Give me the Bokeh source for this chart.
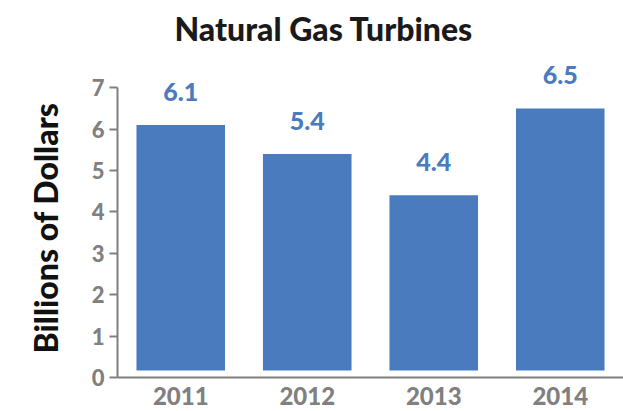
from bokeh.plotting import figure
from bokeh.models import ColumnDataSource, LabelSet, Range1d, Title
from bokeh.core.properties import value
from bokeh.embed import file_html
from bokeh.resources import INLINE

years = ["2011", "2012", "2013", "2014"]
values = [6.1, 5.4, 4.4, 6.5]
y_ticks = [0, 1, 2, 3, 4, 5, 6, 7]

BAR = "#4a7bbf"
GRAY = "#808080"
FONT = "Lato Heavy"
STYLE = "normal"

src = ColumnDataSource(dict(
    x=years,
    top=values,
    label=[f"{v:.1f}" for v in values],
))

p = figure(
    x_range=years,
    y_range=Range1d(0, 7.85),
    width=623, height=411,
    output_backend="svg", toolbar_location=None,
    min_border_left=117, min_border_right=0,
    min_border_top=52, min_border_bottom=34,
    title="Natural Gas Turbines",
)
p.x_range.range_padding = 0
p.outline_line_color = None
p.grid.grid_line_color = None
p.background_fill_color = "white"
p.border_fill_color = "white"

p.title.align = "left"
p.title.offset = 57
p.title.text_font = FONT
p.title.text_font_style = STYLE
p.title.text_font_size = "32px"
p.title.text_color = "#1a1a1a"
p.title.standoff = 9

p.vbar(x="x", top="top", bottom=0.17, width=0.70, source=src,
       fill_color=BAR, line_color=None)

labels = LabelSet(x="x", y="top", text="label", source=src,
                  text_font=value(FONT), text_font_style=STYLE,
                  text_font_size="25px", text_color=BAR,
                  text_align="center", text_baseline="middle",
                  y_offset=33)
p.add_layout(labels)

ya = p.yaxis[0]
ya.ticker = y_ticks
ya.bounds = (0, 7)
ya.axis_line_color = GRAY
ya.axis_line_width = 2
ya.major_tick_line_color = GRAY
ya.major_tick_line_width = 2
ya.major_tick_in = 0
ya.major_tick_out = 8
ya.minor_tick_line_color = None
ya.major_label_text_font = FONT
ya.major_label_text_font_style = STYLE
ya.major_label_text_font_size = "22px"
ya.major_label_text_color = GRAY
ya.major_label_standoff = 5

ylabel = Title(text="Billions of Dollars", align="left", offset=24,
               standoff=47, text_font=FONT, text_font_style=STYLE,
               text_font_size="32px", text_color="#111111")
p.add_layout(ylabel, "left")

xa = p.xaxis[0]
xa.axis_line_color = GRAY
xa.axis_line_width = 2
xa.major_tick_line_color = None
xa.minor_tick_line_color = None
xa.major_tick_in = 0
xa.major_tick_out = 0
xa.major_label_text_font = FONT
xa.major_label_text_font_style = STYLE
xa.major_label_text_font_size = "24px"
xa.major_label_text_color = GRAY
xa.major_label_standoff = 9

open("out.html", "w").write(file_html(p, INLINE))
